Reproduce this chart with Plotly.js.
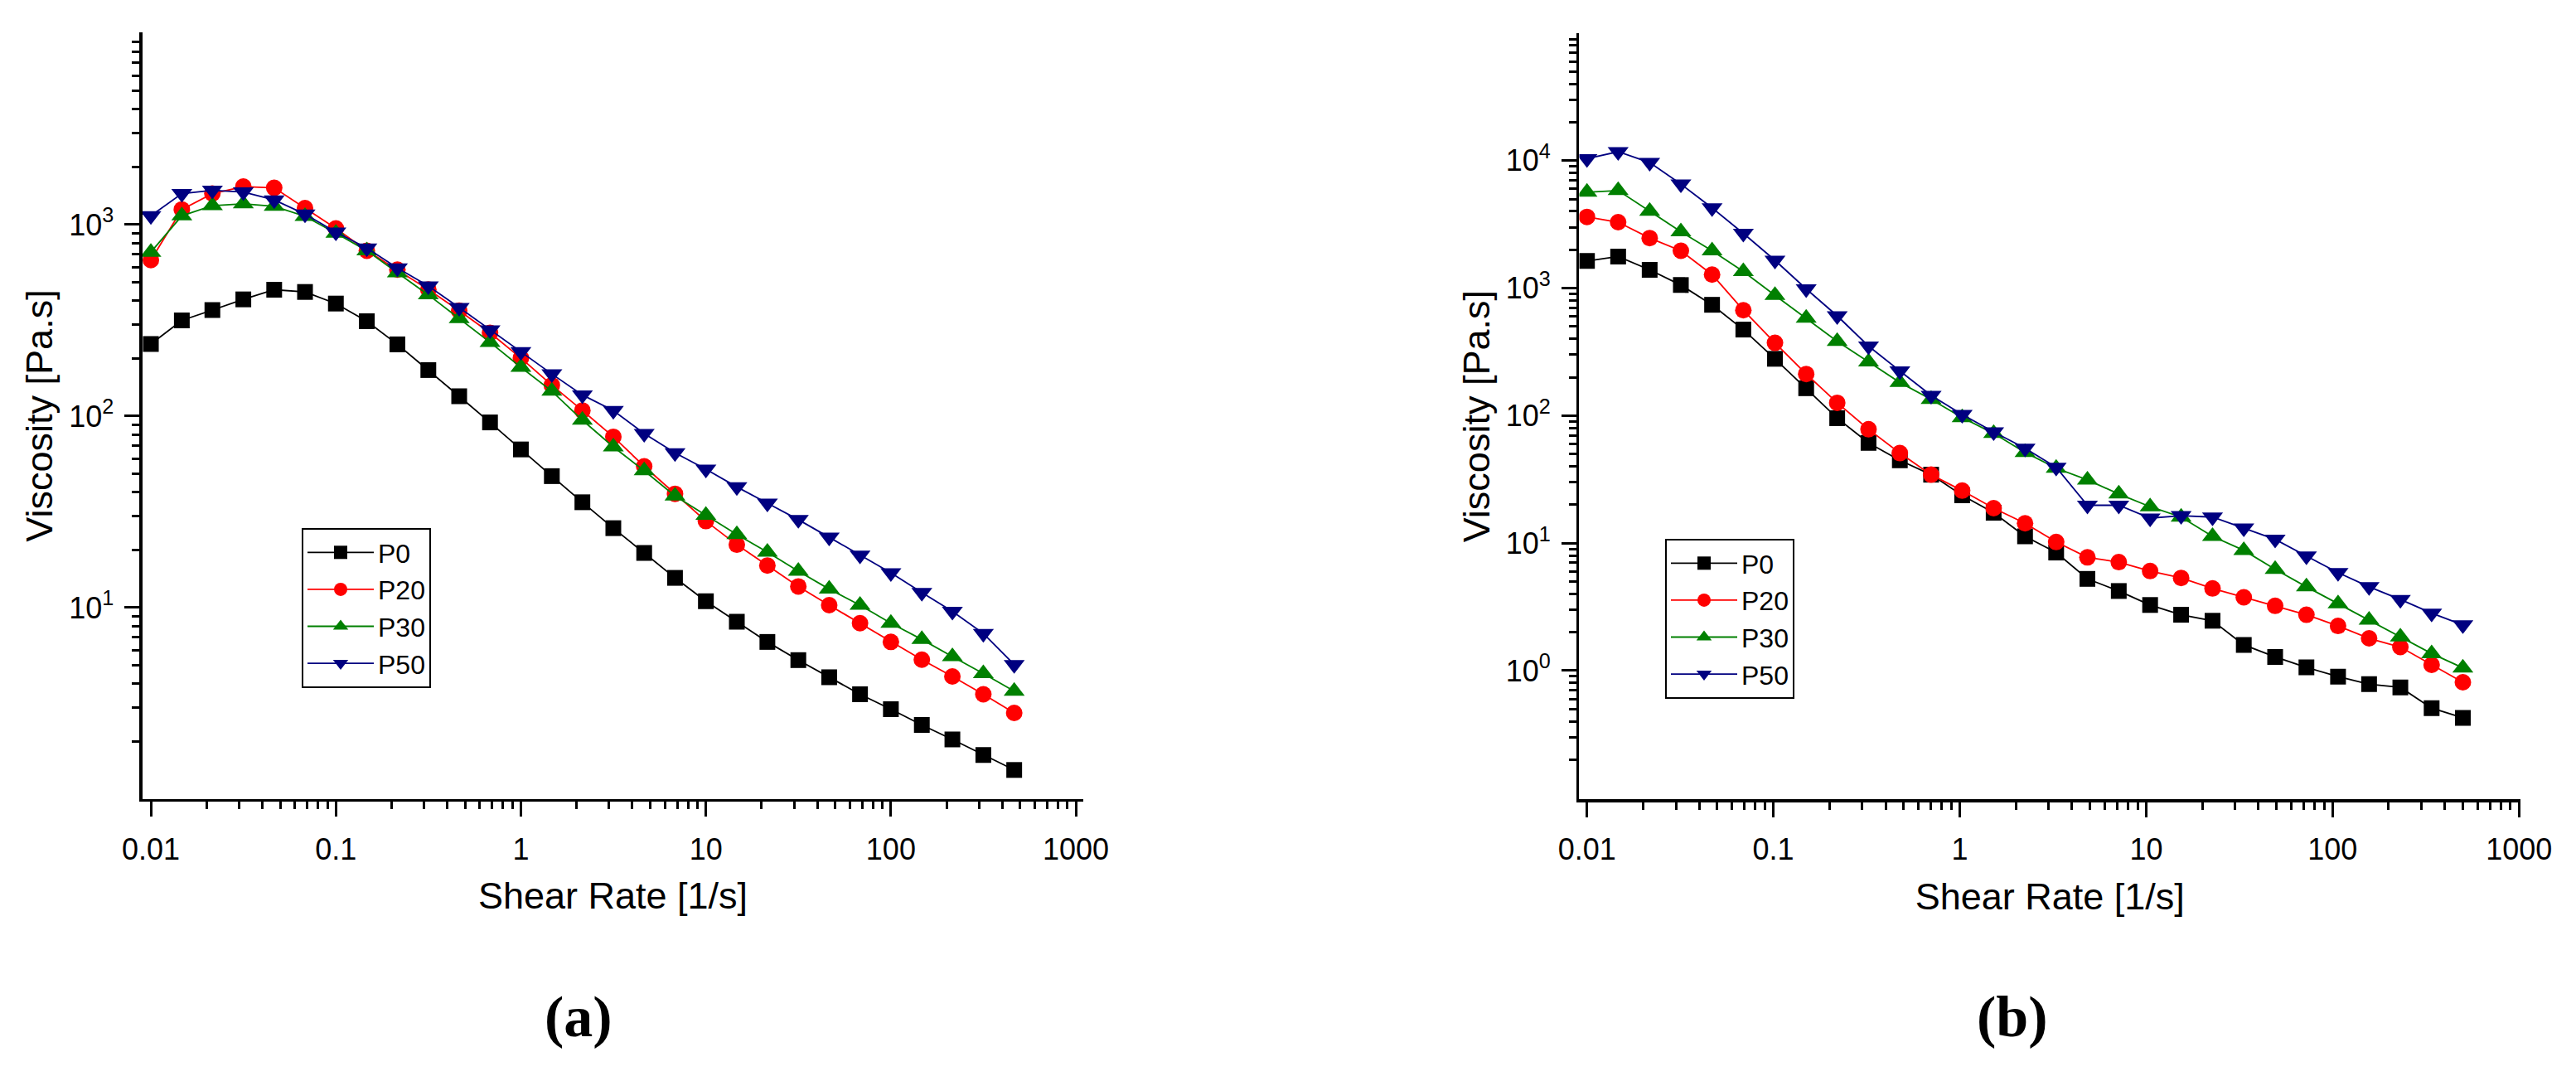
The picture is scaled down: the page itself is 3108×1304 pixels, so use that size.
<!DOCTYPE html>
<html>
<head>
<meta charset="utf-8">
<script src="https://cdn.plot.ly/plotly-3.0.1.min.js"></script>
<style>
    html, body { margin: 0; padding: 0; background: #ffffff; }
    #plotDiv { width: 3108px; height: 1304px; }
</style>
</head>
<body>
<div id="plotDiv"></div>
<script>
// shear rates [1/s] for panel (a) and panel (b)
const shearA = [0.01, 0.0147, 0.0215, 0.0316, 0.0464, 0.0681, 0.1, 0.147, 0.215, 0.316, 0.464, 0.681,
    1, 1.47, 2.15, 3.16, 4.64, 6.81, 10, 14.7, 21.5, 31.6, 46.4, 68.1, 100, 147, 215, 316, 464]
const shearB = [0.01, 0.0147, 0.0217, 0.0319, 0.0469, 0.069, 0.102, 0.15, 0.22, 0.324, 0.477, 0.702,
    1.03, 1.52, 2.24, 3.29, 4.84, 7.13, 10.5, 15.4, 22.7, 33.4, 49.2, 72.4, 107, 157, 231, 340, 500]

// viscosity [Pa.s], panel (a)
const p0A = [238, 316, 358, 407, 457, 445, 387, 313, 237, 174, 127, 92.7, 67, 48.6, 35.5, 26.0, 19.3,
    14.3, 10.8, 8.44, 6.62, 5.32, 4.33, 3.53, 2.95, 2.44, 2.05, 1.70, 1.42]
const p20A = [653, 1200, 1452, 1579, 1556, 1219, 955, 731, 582, 458, 355, 272, 201, 145, 107, 78, 54.7,
    39.3, 28.3, 21.3, 16.6, 12.9, 10.3, 8.29, 6.62, 5.35, 4.37, 3.53, 2.82]
const p30A = [718, 1112, 1256, 1285, 1247, 1104, 902, 731, 561, 430, 323, 243, 180, 135, 95.3, 69.1, 51.9,
    38.3, 30.4, 24.1, 19.5, 15.5, 12.5, 10.3, 8.3, 6.82, 5.55, 4.53, 3.66]
const p50A = [1112, 1452, 1510, 1480, 1346, 1134, 913, 754, 594, 478, 369, 282, 217, 166, 129, 107, 81.1,
    64.3, 52.8, 42.7, 35.1, 28.8, 23.3, 18.8, 15.2, 12.0, 9.55, 7.33, 5.04]

// viscosity [Pa.s], panel (b)
const p0B = [1633, 1770, 1391, 1057, 740, 473, 279, 164, 95.5, 61.1, 44.6, 34.4, 23.7, 17.3, 11.3, 8.43,
    5.24, 4.21, 3.27, 2.74, 2.46, 1.59, 1.28, 1.06, 0.897, 0.782, 0.738, 0.508, 0.426]
const p20B = [3620, 3290, 2470, 1963, 1277, 671, 372, 212, 126, 78.1, 50.8, 34.4, 25.8, 18.8, 14.3, 10.2,
    7.73, 7.09, 6.04, 5.33, 4.41, 3.76, 3.22, 2.74, 2.24, 1.79, 1.53, 1.11, 0.81]
const p30B = [5660, 5830, 4020, 2770, 1963, 1352, 879, 582, 383, 264, 182, 134, 96.6, 72.5, 51.5, 38.7,
    31.3, 24.3, 19.3, 16.0, 11.3, 8.77, 6.22, 4.54, 3.35, 2.49, 1.84, 1.36, 1.05]
const p50B = [10350, 11750, 9660, 6550, 4260, 2690, 1653, 986, 606, 351, 224, 144, 102, 74.6, 55.5, 39.3,
    19.8, 19.8, 15.7, 16.4, 16.0, 13.1, 10.7, 7.91, 5.87, 4.54, 3.61, 2.82, 2.28]

const seriesNames = ["P0", "P20", "P30", "P50"]
const xTickVals = [0.01, 0.1, 1, 10, 100, 1000]
const xTickText = ["0.01", "0.1", "1", "10", "100", "1000"]
const yTickValsA = [10, 100, 1000]
const yTickTextA = ["10<sup>1</sup>", "10<sup>2</sup>", "10<sup>3</sup>"]
const yTickValsB = [1, 10, 100, 1000, 10000]
const yTickTextB = ["10<sup>0</sup>", "10<sup>1</sup>", "10<sup>2</sup>", "10<sup>3</sup>", "10<sup>4</sup>"]

const FONT = "Arial, 'Liberation Sans', sans-serif"
const styles = [
    { color: "#000000", symbol: "square", size: 19 },
    { color: "#ff0000", symbol: "circle", size: 20 },
    { color: "#008000", symbol: "triangle-up", size: 22 },
    { color: "#000080", symbol: "triangle-down", size: 22 }
]

function minorTicks(fromExp, toExp) {
    // 2..9 in every decade, for the short ticks
    let vals = []
    for (let e = fromExp; e < toExp; e++) {
        for (let m = 2; m <= 9; m++) vals.push(m * Math.pow(10, e))
    }
    return vals
}

function makeTraces(x, ys, xaxis, yaxis, legend) {
    return ys.map((y, i) => ({
        type: "scatter",
        mode: "lines+markers",
        x: x,
        y: y,
        name: seriesNames[i],
        xaxis: xaxis,
        yaxis: yaxis,
        legend: legend,
        line: { color: styles[i].color, width: 1.8 },
        marker: { color: styles[i].color, symbol: styles[i].symbol, size: styles[i].size }
    }))
}

function logAxis(domain, range, tickvals, ticktext, minor, title, anchor, isX) {
    return {
        type: "log",
        domain: domain,
        range: range,
        anchor: anchor,
        tickmode: "array",
        tickvals: tickvals,
        ticktext: ticktext,
        ticks: "outside",
        ticklen: 18,
        tickwidth: 3,
        tickcolor: "#000",
        ticklabelstandoff: isX ? 8 : 6,
        minor: { tickmode: "array", tickvals: minor, ticks: "outside", ticklen: 9, tickwidth: 3, tickcolor: "#000", showgrid: false },
        showline: true,
        linewidth: 3.5,
        linecolor: "#000",
        mirror: false,
        showgrid: false,
        zeroline: false,
        tickfont: { family: FONT, size: 36, color: "#000" },
        title: { text: title, font: { family: FONT, size: 45, color: "#000" }, standoff: isX ? 22 : 6 }
    }
}

let plotData = [].concat(
    makeTraces(shearA, [p0A, p20A, p30A, p50A], "x", "y", "legend"),
    makeTraces(shearB, [p0B, p20B, p30B, p50B], "x2", "y2", "legend2")
)

let legendBase = {
    xanchor: "left",
    yanchor: "top",
    bgcolor: "#fff",
    bordercolor: "#000",
    borderwidth: 2,
    itemwidth: 80,
    font: { family: FONT, size: 32, color: "#000" }
}

let plotLayout = {
    width: 3108,
    height: 1304,
    margin: { l: 0, r: 0, t: 0, b: 0 },
    paper_bgcolor: "#fff",
    plot_bgcolor: "#fff",
    showlegend: true,
    xaxis: logAxis([0.05534, 0.42053], [-2.045, 3.04], xTickVals, xTickText, minorTicks(-3, 4), "Shear Rate [1/s]", "y", true),
    yaxis: logAxis([0.26074, 0.97009], [0, 4.004], yTickValsA, yTickTextA, minorTicks(0, 4), "Viscosity [Pa.s]", "x", false),
    xaxis2: logAxis([0.61309, 0.97844], [-2.041, 3.008], xTickVals, xTickText, minorTicks(-3, 4), "Shear Rate [1/s]", "y2", true),
    yaxis2: logAxis([0.26043, 0.96933], [-1.011, 5.0], yTickValsB, yTickTextB, minorTicks(-1, 5), "Viscosity [Pa.s]", "x2", false),
    legend: Object.assign({}, legendBase, { x: 364 / 3108, y: 1 - 637 / 1304 }),
    legend2: Object.assign({}, legendBase, { x: 2009 / 3108, y: 1 - 650 / 1304 }),
    annotations: [
        { text: "<b>(a)</b>", x: 698 / 3108, y: 1 - 1226 / 1304 },
        { text: "<b>(b)</b>", x: 2428 / 3108, y: 1 - 1226 / 1304 }
    ].map(a => Object.assign(a, {
        xref: "paper", yref: "paper", showarrow: false, xanchor: "center", yanchor: "middle",
        font: { family: "'Palatino Linotype', 'Book Antiqua', 'Liberation Serif', serif", size: 70, color: "#000" }
    }))
}

let plotConfig = { displayModeBar: false, staticPlot: true }

Plotly.newPlot("plotDiv", plotData, plotLayout, plotConfig)
</script>
</body>
</html>
